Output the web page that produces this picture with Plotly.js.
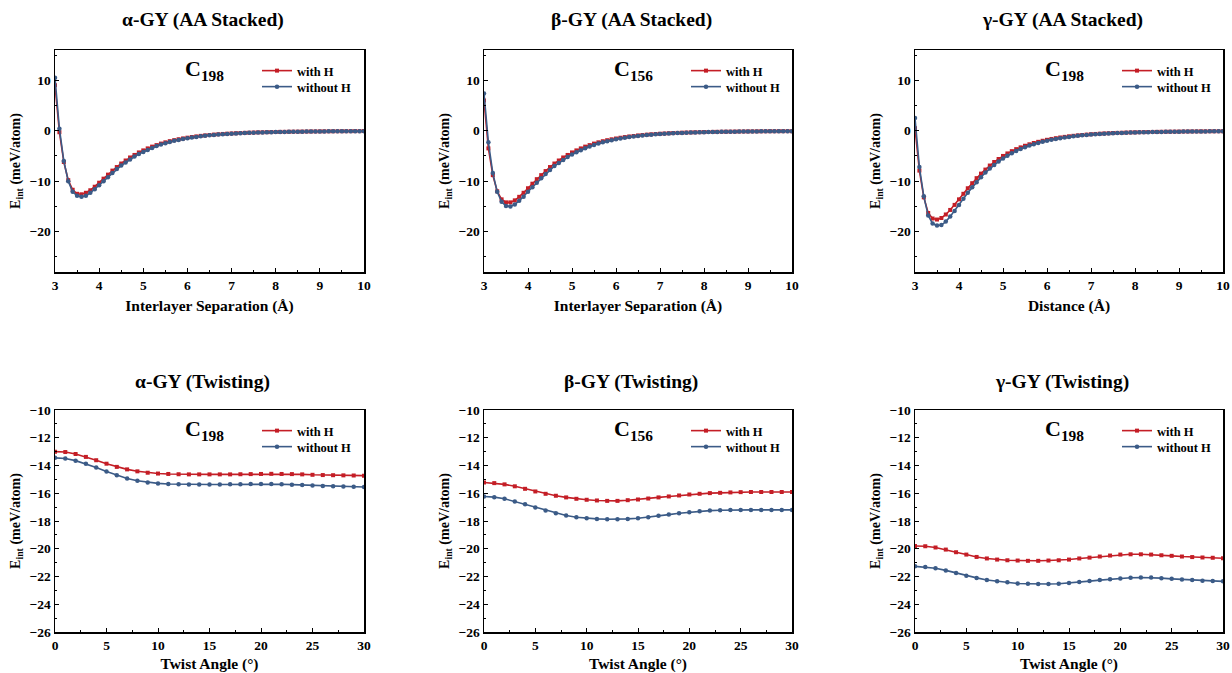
<!DOCTYPE html>
<html>
<head>
<meta charset="utf-8">
<script src="https://cdn.plot.ly/plotly-3.0.1.min.js"></script>
<style>html,body{margin:0;padding:0;background:#fff;}#chart{width:1232px;height:673px;}</style>
</head>
<body>
<div id="chart"></div>
<script>
// ---------- DATA ----------
const sepX = [3.0,3.1,3.2,3.3,3.4,3.5,3.6,3.7,3.8,3.9,4.0,4.1,4.2,4.3,4.4,4.5,4.6,4.7,4.8,4.9,5.0,5.1,5.2,5.3,5.4,5.5,5.6,5.7,5.8,5.9,6.0,6.1,6.2,6.3,6.4,6.5,6.6,6.7,6.8,6.9,7.0,7.1,7.2,7.3,7.4,7.5,7.6,7.7,7.8,7.9,8.0,8.1,8.2,8.3,8.4,8.5,8.6,8.7,8.8,8.9,9.0,9.1,9.2,9.3,9.4,9.5,9.6,9.7,9.8,9.9,10.0];

const alphaStackH = [9.0,-0.3,-6.2,-9.8,-11.7,-12.5,-12.6,-12.3,-11.8,-11.1,-10.3,-9.5,-8.7,-7.9,-7.2,-6.5,-5.9,-5.3,-4.8,-4.3,-3.9,-3.5,-3.15,-2.85,-2.55,-2.3,-2.07,-1.87,-1.69,-1.53,-1.38,-1.25,-1.13,-1.02,-0.93,-0.85,-0.77,-0.70,-0.64,-0.59,-0.54,-0.50,-0.46,-0.42,-0.39,-0.36,-0.33,-0.31,-0.29,-0.27,-0.25,-0.23,-0.22,-0.20,-0.19,-0.18,-0.17,-0.16,-0.15,-0.14,-0.13,-0.12,-0.12,-0.11,-0.10,-0.10,-0.09,-0.09,-0.08,-0.08,-0.07];
const alphaStackNoH = [10.5,0.4,-6.0,-10.0,-12.1,-12.9,-13.1,-12.9,-12.3,-11.6,-10.8,-10.0,-9.2,-8.4,-7.6,-6.9,-6.3,-5.7,-5.1,-4.6,-4.2,-3.8,-3.4,-3.05,-2.75,-2.48,-2.23,-2.01,-1.82,-1.65,-1.49,-1.35,-1.22,-1.10,-1.00,-0.91,-0.83,-0.76,-0.69,-0.63,-0.58,-0.53,-0.49,-0.45,-0.42,-0.39,-0.36,-0.33,-0.31,-0.29,-0.27,-0.25,-0.23,-0.22,-0.20,-0.19,-0.18,-0.17,-0.16,-0.15,-0.14,-0.13,-0.12,-0.12,-0.11,-0.10,-0.10,-0.09,-0.09,-0.08,-0.08];

const betaStackH = [6.0,-3.5,-8.8,-12.0,-13.6,-14.2,-14.2,-13.8,-13.1,-12.3,-11.4,-10.5,-9.6,-8.8,-8.0,-7.2,-6.5,-5.9,-5.3,-4.8,-4.3,-3.9,-3.5,-3.15,-2.85,-2.55,-2.3,-2.08,-1.88,-1.7,-1.54,-1.39,-1.26,-1.14,-1.04,-0.94,-0.86,-0.78,-0.71,-0.65,-0.60,-0.55,-0.50,-0.46,-0.43,-0.39,-0.36,-0.34,-0.31,-0.29,-0.27,-0.25,-0.23,-0.22,-0.20,-0.19,-0.18,-0.17,-0.16,-0.15,-0.14,-0.13,-0.12,-0.12,-0.11,-0.10,-0.10,-0.09,-0.09,-0.08,-0.08];
const betaStackNoH = [7.4,-2.3,-8.4,-12.1,-14.1,-14.9,-15.0,-14.6,-13.9,-13.1,-12.1,-11.2,-10.3,-9.4,-8.6,-7.8,-7.0,-6.4,-5.8,-5.2,-4.7,-4.25,-3.85,-3.45,-3.12,-2.82,-2.55,-2.3,-2.08,-1.88,-1.7,-1.54,-1.39,-1.26,-1.14,-1.04,-0.94,-0.86,-0.78,-0.71,-0.65,-0.60,-0.55,-0.50,-0.46,-0.43,-0.39,-0.36,-0.34,-0.31,-0.29,-0.27,-0.25,-0.23,-0.22,-0.20,-0.19,-0.18,-0.17,-0.16,-0.15,-0.14,-0.13,-0.12,-0.12,-0.11,-0.10,-0.10,-0.09,-0.09,-0.08];

const gammaStackH = [0.5,-7.9,-13.2,-16.3,-17.4,-17.6,-17.3,-16.6,-15.7,-14.7,-13.6,-12.5,-11.4,-10.4,-9.4,-8.5,-7.7,-6.9,-6.2,-5.6,-5.0,-4.5,-4.05,-3.65,-3.3,-2.98,-2.69,-2.43,-2.2,-1.99,-1.8,-1.63,-1.48,-1.34,-1.22,-1.11,-1.01,-0.92,-0.84,-0.77,-0.70,-0.64,-0.59,-0.54,-0.50,-0.46,-0.43,-0.40,-0.37,-0.34,-0.32,-0.30,-0.28,-0.26,-0.24,-0.23,-0.21,-0.20,-0.19,-0.18,-0.17,-0.16,-0.15,-0.14,-0.13,-0.13,-0.12,-0.11,-0.11,-0.10,-0.10];
const gammaStackNoH = [2.5,-7.2,-13.0,-16.8,-18.4,-18.8,-18.7,-18.0,-17.0,-15.9,-14.7,-13.5,-12.3,-11.2,-10.2,-9.2,-8.3,-7.5,-6.8,-6.1,-5.5,-4.95,-4.45,-4.0,-3.6,-3.25,-2.94,-2.66,-2.41,-2.18,-1.98,-1.79,-1.62,-1.47,-1.34,-1.22,-1.11,-1.01,-0.92,-0.84,-0.77,-0.70,-0.64,-0.59,-0.54,-0.50,-0.46,-0.43,-0.40,-0.37,-0.34,-0.32,-0.30,-0.28,-0.26,-0.24,-0.23,-0.21,-0.20,-0.19,-0.18,-0.17,-0.16,-0.15,-0.14,-0.13,-0.13,-0.12,-0.11,-0.11,-0.10];

const twistX = [0,1,2,3,4,5,6,7,8,9,10,11,12,13,14,15,16,17,18,19,20,21,22,23,24,25,26,27,28,29,30];

const alphaTwistH = [-13.0,-13.03,-13.17,-13.38,-13.62,-13.87,-14.1,-14.28,-14.42,-14.52,-14.58,-14.61,-14.63,-14.64,-14.64,-14.64,-14.64,-14.64,-14.63,-14.62,-14.61,-14.6,-14.61,-14.62,-14.64,-14.67,-14.69,-14.7,-14.71,-14.72,-14.73];
const alphaTwistNoH = [-13.45,-13.5,-13.65,-13.88,-14.15,-14.44,-14.71,-14.94,-15.1,-15.22,-15.29,-15.33,-15.35,-15.37,-15.37,-15.37,-15.37,-15.36,-15.35,-15.34,-15.33,-15.33,-15.35,-15.38,-15.41,-15.44,-15.47,-15.5,-15.52,-15.53,-15.55];

const betaTwistH = [-15.22,-15.27,-15.36,-15.5,-15.68,-15.87,-16.04,-16.18,-16.3,-16.4,-16.47,-16.52,-16.55,-16.55,-16.5,-16.45,-16.38,-16.3,-16.23,-16.16,-16.09,-16.04,-15.99,-15.97,-15.94,-15.92,-15.91,-15.91,-15.91,-15.91,-15.91];
const betaTwistNoH = [-16.23,-16.28,-16.4,-16.6,-16.8,-17.03,-17.25,-17.44,-17.6,-17.73,-17.8,-17.85,-17.87,-17.87,-17.85,-17.8,-17.73,-17.63,-17.54,-17.44,-17.37,-17.3,-17.25,-17.22,-17.2,-17.2,-17.2,-17.2,-17.2,-17.2,-17.2];

const gammaTwistH = [-19.8,-19.82,-19.91,-20.06,-20.25,-20.42,-20.59,-20.7,-20.78,-20.83,-20.85,-20.87,-20.87,-20.85,-20.83,-20.78,-20.7,-20.64,-20.56,-20.49,-20.42,-20.4,-20.4,-20.42,-20.47,-20.51,-20.56,-20.6,-20.63,-20.65,-20.68];
const gammaTwistNoH = [-21.27,-21.32,-21.41,-21.56,-21.75,-21.95,-22.1,-22.25,-22.35,-22.42,-22.5,-22.52,-22.54,-22.54,-22.52,-22.47,-22.4,-22.33,-22.26,-22.19,-22.14,-22.09,-22.07,-22.07,-22.12,-22.17,-22.21,-22.26,-22.3,-22.33,-22.35];

const panelTitles = ['α-GY (AA Stacked)','β-GY (AA Stacked)','γ-GY (AA Stacked)','α-GY (Twisting)','β-GY (Twisting)','γ-GY (Twisting)'];
const xTitles = ['Interlayer Separation (Å)','Interlayer Separation (Å)','Distance (Å)','Twist Angle (°)','Twist Angle (°)','Twist Angle (°)'];
const yTitle = 'E<sub>int</sub> (meV/atom)';
const carbonLabels = ['C<sub>198</sub>','C<sub>156</sub>','C<sub>198</sub>','C<sub>198</sub>','C<sub>156</sub>','C<sub>198</sub>'];
const seriesNames = ['with H','without H'];

// ---------- STYLE / LAYOUT ----------
const W = 1232, H = 673;
const RED = '#c41e26', BLUE = '#3b5b87';
const FONT = 'Liberation Serif, Times New Roman, serif';
const colPx = [[55,364],[484,792],[915,1223]];
const rowPx = [[50,272],[410,632]];

const xs = [sepX,sepX,sepX,twistX,twistX,twistX];
const ysH = [alphaStackH,betaStackH,gammaStackH,alphaTwistH,betaTwistH,gammaTwistH];
const ysN = [alphaStackNoH,betaStackNoH,gammaStackNoH,alphaTwistNoH,betaTwistNoH,gammaTwistNoH];

const traces = [];
const layout = {
  width: W, height: H,
  margin: {l:0,r:0,t:0,b:0},
  paper_bgcolor: '#fff', plot_bgcolor: '#fff',
  font: {family: FONT, color: '#000'},
  showlegend: true,
  annotations: [],
};

function legendName(k) { return 'legend' + (k===1 ? '' : k); }

for (let i = 0; i < 6; i++) {
  const r = Math.floor(i/3), c = i % 3;
  const n = i+1;
  const xa = 'x' + (n===1?'':n), ya = 'y' + (n===1?'':n);
  const lgA = legendName(2*i+1), lgB = legendName(2*i+2);
  traces.push({x: xs[i], y: ysH[i], xaxis: xa, yaxis: ya, legend: lgA, name: seriesNames[0],
    mode: 'lines+markers', line: {color: RED, width: 1.6}, marker: {symbol: 'square', size: 4, color: RED}});
  traces.push({x: xs[i], y: ysN[i], xaxis: xa, yaxis: ya, legend: lgB, name: seriesNames[1],
    mode: 'lines+markers', line: {color: BLUE, width: 1.6}, marker: {symbol: 'circle', size: 4.5, color: BLUE}});

  const top = r === 0;
  const xd = [colPx[c][0]/W, colPx[c][1]/W];
  const yd = [1 - rowPx[r][1]/H, 1 - rowPx[r][0]/H];
  layout['xaxis' + (n===1?'':n)] = {
    domain: xd, anchor: ya, range: top ? [3,10] : [0,30], dtick: top ? 1 : 5, tick0: 0,
    showline: true, linecolor: '#000', linewidth: 1.5, mirror: true,
    ticks: 'inside', ticklen: 4, tickwidth: 1, tickcolor: '#000',
    minor: {dtick: top ? 0.5 : 2.5, ticks: 'inside', ticklen: 2, tickcolor: '#000', showgrid: false},
    showgrid: false, zeroline: false,
    tickfont: {family: FONT, size: 13.5, weight: 'bold', color: '#000'},
    title: {text: xTitles[i], font: {family: FONT, size: 15.5, weight: 'bold', color: '#000'}, standoff: top ? 8 : 11},
  };
  layout['yaxis' + (n===1?'':n)] = {
    domain: yd, anchor: xa, range: top ? [-28,16] : [-26,-10], dtick: top ? 10 : 2,
    showline: true, linecolor: '#000', linewidth: 1.5, mirror: true,
    ticks: 'inside', ticklen: 4, tickwidth: 1, tickcolor: '#000',
    minor: {dtick: top ? 5 : 1, ticks: 'inside', ticklen: 2, tickcolor: '#000', showgrid: false},
    showgrid: false, zeroline: false,
    tickfont: {family: FONT, size: 13.5, weight: 'bold', color: '#000'},
    title: {text: yTitle, font: {family: FONT, size: 14, weight: 'bold', color: '#000'}, standoff: 5},
  };
  const legBase = {
    x: (colPx[c][0] + 202)/W, xanchor: 'left', yanchor: 'middle',
    bgcolor: 'rgba(0,0,0,0)', borderwidth: 0,
    font: {family: FONT, size: 12.5, weight: 'bold', color: '#000'},
    itemwidth: 30,
  };
  layout[lgA] = Object.assign({}, legBase, {y: 1 - (rowPx[r][0] + 21)/H});
  layout[lgB] = Object.assign({}, legBase, {y: 1 - (rowPx[r][0] + 37)/H});
  // panel title
  layout.annotations.push({xref: 'paper', yref: 'paper', x: ((colPx[c][0]+colPx[c][1])/2 - 7)/W,
    y: 1 - (r===0 ? 20 : 382)/H, xanchor: 'center', yanchor: 'middle', showarrow: false,
    text: panelTitles[i], font: {family: FONT, size: 19.5, weight: 'bold', color: '#000'}});
  // carbon label
  layout.annotations.push({xref: 'paper', yref: 'paper', x: (colPx[c][0] + 128)/W,
    y: 1 - (rowPx[r][0] + 20)/H, xanchor: 'left', yanchor: 'middle', showarrow: false,
    text: carbonLabels[i], font: {family: FONT, size: 22, weight: 'bold', color: '#000'}});
}

Plotly.newPlot('chart', traces, layout, {displayModeBar: false, staticPlot: true});
</script>
</body>
</html>
